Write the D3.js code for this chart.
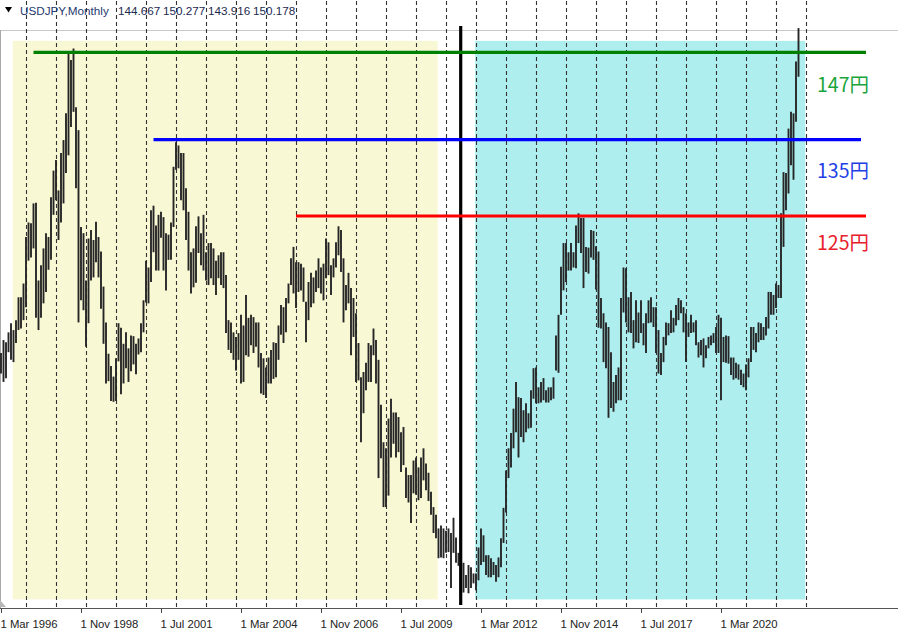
<!DOCTYPE html>
<html><head><meta charset="utf-8">
<script src="https://cdn.jsdelivr.net/npm/d3@7/dist/d3.min.js"></script>
<style>body{margin:0;background:#fff;}svg{display:block;}</style>
</head><body>
<svg id="chart" width="898" height="629"></svg>
<script>
// ---------- DATA ----------
const symbolName = "USDJPY,Monthly";
const ohlcText = ["144.667", "150.277", "143.916", "150.178"];
const firstMonth = "1996-03";
const highs = [
  107.7,109.4,109.1,110.4,111.6,110.7,112.0,115.0,115.0,116.8,
  122.9,124.8,124.7,127.3,127.4,117.2,119.2,121.4,123.4,122.9,128.1,131.6,
  133.0,129.0,133.9,135.6,139.1,147.0,146.1,147.6,139.9,136.9,124.2,123.4,
  117.2,122.7,123.8,122.5,124.9,122.9,121.0,116.4,111.7,107.6,106.0,104.6,
  107.0,111.6,111.0,108.9,110.4,108.3,110.0,109.9,108.9,109.6,111.6,114.6,
  119.8,118.9,126.4,127.0,124.4,125.8,126.2,125.5,123.4,123.2,124.8,132.1,
  135.3,134.9,133.9,133.9,129.3,126.2,120.9,121.4,124.3,125.6,123.4,125.8,
  120.9,122.1,122.1,121.4,119.8,120.5,120.9,120.9,117.9,112.0,111.7,110.4,
  109.8,110.3,112.7,111.3,115.3,112.3,112.7,112.4,111.7,111.7,107.7,107.0,
  105.8,107.1,108.1,109.1,109.0,111.3,114.0,113.7,114.9,116.8,120.1,121.6,
  119.6,119.6,119.4,118.9,114.4,117.0,118.2,117.6,118.5,120.1,118.9,119.4,
  122.7,122.2,119.2,120.1,122.2,124.3,123.8,120.1,116.6,118.2,116.2,114.9,
  112.9,109.0,104.5,105.2,106.4,109.0,108.7,110.9,109.4,106.8,100.9,96.0,
  95.2,99.1,101.7,99.9,99.9,99.3,97.3,98.0,92.7,91.7,91.7,93.6,
  94.0,92.7,94.0,95.2,93.2,92.0,89.5,87.5,86.5,84.7,85.1,84.7,
  84.4,84.7,84.1,86.1,83.5,81.5,81.3,80.2,78.6,79.9,79.6,78.8,
  78.8,82.2,84.7,83.8,81.2,81.2,80.8,80.3,79.9,80.9,83.4,87.4,
  92.3,95.2,97.2,100.4,103.9,101.9,101.8,100.2,101.1,99.8,102.8,105.7,
  105.8,103.2,103.9,104.4,102.8,103.2,103.2,104.5,110.0,112.7,119.0,122.1,
  122.1,120.9,122.1,120.9,124.4,126.0,125.4,125.4,121.6,121.5,123.8,123.7,
  121.7,121.0,114.9,112.9,111.7,111.1,107.8,103.9,104.8,105.8,114.9,118.9,
  118.8,115.0,115.7,112.0,114.6,113.0,114.6,111.6,112.9,114.6,115.0,113.7,
  113.7,110.7,107.7,109.8,111.7,111.6,113.3,112.3,114.0,114.9,114.6,113.7,
  112.9,111.7,112.7,111.7,112.0,109.1,109.4,109.6,108.7,109.8,110.0,110.3,
  111.1,112.7,112.3,109.8,110.0,109.9,107.1,107.1,106.4,106.2,105.5,105.0,
  106.2,107.0,111.1,111.1,110.3,111.7,111.6,111.1,112.4,115.7,115.7,115.3,
  116.8,116.6,126.0,131.4,131.3,137.1,139.3,139.1,145.9,150.28
];
const lows = [
  105.0,103.9,104.4,107.8,106.8,106.5,109.0,110.7,110.9,112.0,
  113.7,119.8,120.2,121.4,112.3,110.7,112.3,114.2,115.7,118.6,119.9,125.8,
  127.7,122.5,124.8,127.3,131.3,133.6,137.3,139.3,129.3,111.7,114.6,113.3,
  108.5,111.6,117.2,117.6,119.6,117.6,113.5,108.9,103.7,104.0,101.4,101.3,
  101.4,106.6,102.3,103.7,105.7,103.9,105.3,106.2,104.9,107.5,107.8,110.4,
  114.3,114.2,117.0,120.9,118.5,118.5,122.8,118.5,115.9,119.9,119.9,124.2,
  131.7,131.9,127.7,126.4,122.5,118.5,115.5,116.3,116.9,120.8,119.2,118.5,
  117.2,116.6,117.5,116.6,115.3,117.5,116.6,116.2,110.3,108.1,107.7,106.8,
  105.4,106.8,103.7,103.9,107.4,107.2,108.7,107.7,108.5,105.8,102.4,102.2,
  101.8,103.7,103.7,104.3,104.5,106.8,110.1,109.0,110.4,114.2,116.6,115.5,
  113.6,115.7,115.9,114.4,109.1,112.0,113.7,114.2,115.7,116.2,115.5,114.6,
  117.5,117.9,115.3,117.6,118.9,120.5,118.3,111.7,113.3,114.2,107.4,109.8,
  103.9,104.1,96.0,99.8,102.8,103.9,103.9,107.4,103.7,91.3,93.9,87.5,
  87.5,89.0,94.0,95.8,94.0,94.7,92.1,93.0,88.7,88.1,85.4,89.3,
  89.1,88.4,88.7,91.0,89.7,88.3,86.5,84.1,83.4,80.8,80.9,80.8,
  81.5,81.6,76.9,81.5,80.2,79.8,77.5,76.3,76.9,76.2,76.9,77.5,
  76.6,77.9,79.9,80.3,78.6,78.3,78.3,78.6,77.7,78.3,79.6,82.8,
  86.8,91.3,92.7,95.2,97.3,94.0,96.7,96.0,97.3,97.8,97.9,101.7,
  101.1,101.1,101.2,101.5,101.2,101.2,101.5,101.7,105.4,105.1,112.7,115.9,
  117.0,118.5,118.5,118.9,118.8,122.1,120.8,116.2,118.3,118.1,120.2,119.9,
  116.0,111.0,110.9,106.5,105.7,99.2,100.5,100.0,101.1,101.5,101.5,113.0,
  111.7,110.4,110.3,108.3,109.1,109.0,110.3,108.7,107.7,111.6,111.7,111.1,
  107.7,105.0,104.8,106.5,108.7,110.0,110.3,110.4,111.3,112.0,112.9,110.4,
  106.5,109.8,110.3,110.4,108.7,107.1,107.4,105.8,107.0,108.3,108.7,109.0,
  107.7,107.7,101.5,106.5,106.4,106.3,104.8,104.2,104.4,104.2,103.5,103.2,
  102.8,104.5,106.5,108.1,107.8,109.1,109.4,109.4,110.0,110.9,112.7,112.7,
  113.6,114.9,114.9,121.6,126.4,128.6,132.3,130.4,138.0,143.9
];
const tickMonths = ["1996-03","1998-11","2001-07","2004-03","2006-11","2009-07","2012-03","2014-11","2017-07","2020-03"];
const tickLabels = ["1 Mar 1996","1 Nov 1998","1 Jul 2001","1 Mar 2004","1 Nov 2006","1 Jul 2009","1 Mar 2012","1 Nov 2014","1 Jul 2017","1 Mar 2020"];
const separatorYears = d3.range(1997, 2024); // yearly period separators (1 Jan)
const levelValues = [147.1, 135.65, 125.65];
const levelLabels = ["147円", "135円", "125円"];
const levelStarts = ["1997-04", "2001-04", "2006-01"];
const levelEnds = ["2025-01", "2024-11", "2025-01"];
const levelColors = ["#008000", "#0000ff", "#ff0000"];
const levelTextColors = ["#1aa53c", "#1f3fe6", "#e8202a"];
const zoneStarts = ["1996-08", "2012-01"];
const zoneEnds = ["2010-10", "2023-01"];
const zoneTop = 148.6, zoneBottom = 75.4;
const zoneColors = ["#f8f8d4", "#afeeee"];
const dividerMonth = "2011-07";

// ---------- SCALES ----------
const svg = d3.select("#chart");
const W = 898, H = 629;
const parse = d3.timeParse("%Y-%m");
const start = parse(firstMonth);
const idx = s => d3.timeMonth.count(start, parse(s));
const months = highs.map((_, i) => d3.timeMonth.offset(start, i));
const x = d3.scaleLinear().domain([0, 360]).range([1, 1 + 2.5 * 360]);
const y = d3.scaleLinear().domain([75, 150.28]).range([1174.7 - 7.63 * 75, 1174.7 - 7.63 * 150.28]);
const axisY = 608;

// ---------- BACKGROUND ZONES ----------
svg.append("g").selectAll("rect").data(zoneStarts).join("rect")
  .attr("x", (d) => x(idx(d)) - 0.8)
  .attr("width", (d, i) => x(idx(zoneEnds[i])) - x(idx(d)))
  .attr("y", y(zoneTop))
  .attr("height", y(zoneBottom) - y(zoneTop))
  .attr("fill", (d, i) => zoneColors[i]);

// frame lines
svg.append("line").attr("x1", 0).attr("x2", W).attr("y1", 30.5).attr("y2", 30.5)
  .attr("stroke", "#c8c8c8").attr("stroke-width", 1);
svg.append("line").attr("x1", 0.5).attr("x2", 0.5).attr("y1", 30).attr("y2", axisY)
  .attr("stroke", "#a8a8a8").attr("stroke-width", 1);

// ---------- PERIOD SEPARATORS ----------
svg.append("g").selectAll("line").data(separatorYears).join("line")
  .attr("x1", d => Math.round(x(idx(d + "-01"))) + 0.5)
  .attr("x2", d => Math.round(x(idx(d + "-01"))) + 0.5)
  .attr("y1", 1).attr("y2", axisY)
  .attr("stroke", "#333").attr("stroke-width", 1.1)
  .attr("stroke-dasharray", "4,3");

// ---------- BARS ----------
svg.append("g").selectAll("line").data(months).join("line")
  .attr("x1", (d, i) => x(i)).attr("x2", (d, i) => x(i))
  .attr("y1", (d, i) => y(highs[i])).attr("y2", (d, i) => y(lows[i]))
  .attr("stroke", "#262626").attr("stroke-width", 1.9);

// ---------- DIVIDER ----------
svg.append("line")
  .attr("x1", x(idx(dividerMonth)) - 0.3).attr("x2", x(idx(dividerMonth)) - 0.3)
  .attr("y1", y(150.55)).attr("y2", y(74.65))
  .attr("stroke", "#000").attr("stroke-width", 3.2);

// ---------- LEVEL LINES ----------
const lv = svg.append("g");
lv.selectAll("line").data(levelValues).join("line")
  .attr("x1", (d, i) => x(idx(levelStarts[i])))
  .attr("x2", (d, i) => x(idx(levelEnds[i])))
  .attr("y1", d => y(d)).attr("y2", d => y(d))
  .attr("stroke", (d, i) => levelColors[i]).attr("stroke-width", 3.2);
const labelOffsets = [40, 38.5, 34];
lv.selectAll("text").data(levelLabels).join("text")
  .attr("x", 817)
  .attr("y", (d, i) => y(levelValues[i]) + labelOffsets[i])
  .attr("fill", (d, i) => levelTextColors[i])
  .attr("font-family", "'Noto Sans CJK JP', 'Noto Sans', sans-serif")
  .attr("font-size", 19.5)
  .text(d => d);

// ---------- AXIS ----------
const axis = d3.axisBottom(x)
  .tickValues(tickMonths.map(idx))
  .tickFormat((d, i) => tickLabels[i])
  .tickSize(5).tickPadding(4);
const ag = svg.append("g").attr("transform", `translate(0,${axisY})`).call(axis);
ag.select(".domain").remove();
ag.selectAll(".tick line").attr("stroke", "#444");
ag.selectAll(".tick text")
  .attr("text-anchor", "start").attr("x", -1).attr("dy", "0.95em")
  .attr("fill", "#222")
  .attr("font-family", "'Liberation Sans', Arial, sans-serif").attr("font-size", 11.3);
svg.append("line").attr("x1", 0).attr("x2", W).attr("y1", axisY + 0.5).attr("y2", axisY + 0.5)
  .attr("stroke", "#555").attr("stroke-width", 1);
svg.append("path").attr("d", "M0,600 L0,607 L6,607 Z").attr("fill", "#b8b8b8");

// ---------- TITLE ----------
svg.append("path").attr("d", "M5,7 L12,7 L8.5,12.5 Z").attr("fill", "#000");
svg.append("text").attr("x", 20).attr("y", 15).attr("fill", "#24396e")
  .attr("font-family", "'Liberation Sans', Arial, sans-serif").attr("font-size", 11.7)
  .text(symbolName);
const ohlcX = [118, 163, 208, 253];
svg.append("g").selectAll("text").data(ohlcText).join("text")
  .attr("x", (d, i) => ohlcX[i]).attr("y", 15).attr("fill", "#1c2a50")
  .attr("font-family", "'Liberation Sans', Arial, sans-serif").attr("font-size", 11.7)
  .text(d => d);
</script>
</body></html>
